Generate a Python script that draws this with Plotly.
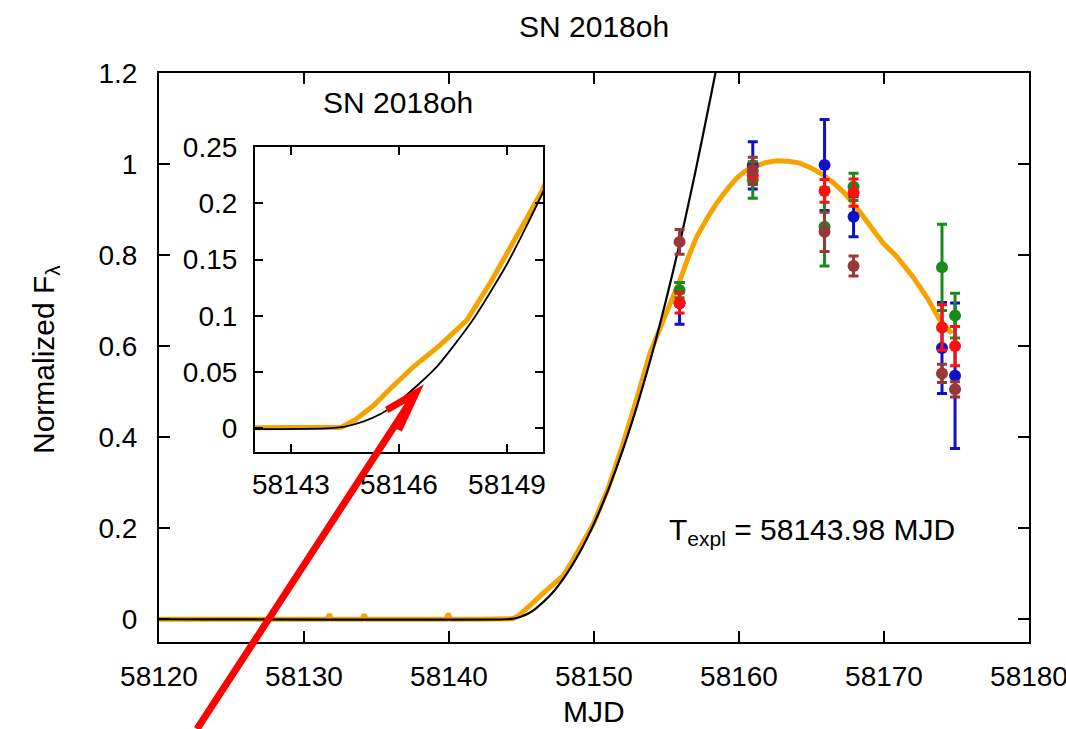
import plotly.graph_objects as go

# ---------------- data ----------------
orange_mjd = [58120.0, 58125.0, 58130.0, 58131.6, 58131.75, 58131.9, 58134.0, 58134.15,
              58134.3, 58139.8, 58139.95, 58140.1, 58142.0, 58144.4, 58144.8, 58145.3,
              58145.75, 58146.4, 58147.14, 58147.88, 58148.53, 58149.18, 58149.96,
              58151.0, 58152.0, 58153.0, 58153.86, 58154.78, 58155.4, 58155.93, 58156.5,
              58157.08, 58157.8, 58158.46, 58159.2, 58159.84, 58160.4, 58160.99, 58161.8,
              58162.6, 58163.4, 58164.2, 58165.0, 58165.81, 58166.5, 58167.19,
              58167.9, 58168.57, 58169.3, 58169.95, 58170.87, 58172.0, 58173.0,
              58173.86, 58174.67]
orange_flux = [0.0, 0.0, 0.0, 0.0, 0.011, 0.0, 0.0, 0.010,
               0.0, 0.0, 0.012, 0.0, 0.0, 0.001, 0.008, 0.0205,
               0.035, 0.0547, 0.074, 0.096, 0.129, 0.165, 0.21,
               0.29, 0.385, 0.49, 0.584, 0.657, 0.703, 0.745, 0.795,
               0.84, 0.881, 0.914, 0.945, 0.969, 0.984, 0.994, 1.003,
               1.007, 1.006, 1.002, 0.991, 0.976, 0.959, 0.939,
               0.913, 0.884, 0.855, 0.826, 0.797, 0.752, 0.705,
               0.657, 0.628]

black_mjd = [58120.0, 58143.98, 58144.5, 58145.0, 58145.5, 58146.0, 58147.0, 58148.0,
             58149.0, 58150.0, 58151.0, 58152.0, 58153.0, 58154.0, 58155.0, 58156.0,
             58157.0, 58158.0, 58158.5]
black_flux = [0.0, 0.0, 0.0016, 0.006, 0.013, 0.024, 0.053, 0.094,
              0.146, 0.21, 0.286, 0.373, 0.472, 0.582, 0.705, 0.838,
              0.984, 1.14, 1.22]

phot_mjd = [58155.9, 58160.95, 58165.9, 58167.9, 58174.0, 58174.9]
blue_flux = [0.694, 0.997, 0.998, 0.884, 0.596, 0.535]
blue_err = [0.046, 0.052, 0.10, 0.044, 0.10, 0.16]
green_flux = [0.723, 0.965, 0.862, 0.950, 0.773, 0.667]
green_err = [0.017, 0.040, 0.086, 0.030, 0.095, 0.049]
red_flux = [0.695, 0.975, 0.941, 0.937, 0.641, 0.600]
red_err = [0.022, 0.020, 0.025, 0.030, 0.050, 0.043]
brown_flux = [0.829, 0.985, 0.851, 0.776, 0.540, 0.505]
brown_err = [0.027, 0.030, 0.043, 0.022, 0.020, 0.017]

x_ticks = [58120, 58130, 58140, 58150, 58160, 58170, 58180]
x_ticktext = ["58120", "58130", "58140", "58150", "58160", "58170", "58180"]
y_ticks = [0, 0.2, 0.4, 0.6, 0.8, 1.0, 1.2]
inset_x_ticks = [58143, 58146, 58149]
inset_x_ticktext = ["58143", "58146", "58149"]
inset_y_ticks = [0, 0.05, 0.1, 0.15, 0.2, 0.25]

ORANGE = "#f5a300"
FONT = "Liberation Sans, Arial, sans-serif"
FS = 28
FT = 30

fig = go.Figure()

# main panel
fig.add_trace(go.Scatter(x=orange_mjd, y=orange_flux, mode="lines",
                         line=dict(color=ORANGE, width=5),
                         xaxis="x", yaxis="y", showlegend=False))
fig.add_trace(go.Scatter(x=black_mjd, y=black_flux, mode="lines",
                         line=dict(color="black", width=2.2, shape="spline", smoothing=0.6),
                         xaxis="x", yaxis="y", showlegend=False))

for flux, err, col in [(blue_flux, blue_err, "#1010c8"),
                       (green_flux, green_err, "#1a8a1a"),
                       (red_flux, red_err, "#ff1010"),
                       (brown_flux, brown_err, "#983838")]:
    fig.add_trace(go.Scatter(x=phot_mjd, y=flux, mode="markers",
                             marker=dict(color=col, size=12),
                             error_y=dict(type="data", array=err, color=col,
                                          thickness=3, width=5),
                             xaxis="x", yaxis="y", showlegend=False))

# inset panel
fig.add_trace(go.Scatter(x=orange_mjd, y=orange_flux, mode="lines",
                         line=dict(color=ORANGE, width=5),
                         xaxis="x2", yaxis="y2", showlegend=False))
fig.add_trace(go.Scatter(x=black_mjd, y=black_flux, mode="lines",
                         line=dict(color="black", width=1.8, shape="spline", smoothing=0.6),
                         xaxis="x2", yaxis="y2", showlegend=False))

axis_common = dict(showline=True, linecolor="black", linewidth=2, mirror="ticks",
                   ticks="inside", tickcolor="black", tickwidth=2, showgrid=False,
                   zeroline=False, ticklabeloverflow="allow", automargin=False,
                   tickfont=dict(family=FONT, size=FS, color="black"))

fig.update_layout(
    width=1066, height=729,
    margin=dict(l=159, r=37, t=73, b=87, autoexpand=False),
    paper_bgcolor="white", plot_bgcolor="white",
    font=dict(family=FONT, size=FS, color="black"),
    xaxis=dict(domain=[0, 1], range=[58120, 58180], tickvals=x_ticks, ticktext=x_ticktext,
               ticklen=11, anchor="y", ticklabelstandoff=8, **axis_common),
    yaxis=dict(domain=[0, 1], range=[-0.05, 1.2], tickvals=y_ticks, ticklen=11,
               anchor="x", ticklabelstandoff=14, **axis_common),
    xaxis2=dict(domain=[0.1103, 0.4414], range=[58142, 58150], tickvals=inset_x_ticks,
                ticktext=inset_x_ticktext, ticklen=8, anchor="y2", ticklabelstandoff=6,
                **axis_common),
    yaxis2=dict(domain=[0.3339, 0.870], range=[-0.021, 0.25], tickvals=inset_y_ticks,
                ticklen=8, anchor="x2", ticklabelstandoff=10, **axis_common),
)

ann = [
    dict(text="SN 2018oh", x=0.5, y=1.0826, xref="paper", yref="paper",
         showarrow=False, xanchor="center", yanchor="middle", font=dict(size=FT)),
    dict(text="SN 2018oh", x=0.2747, y=0.9473, xref="paper", yref="paper",
         showarrow=False, xanchor="center", yanchor="middle", font=dict(size=FT)),
    dict(text="MJD", x=0.5, y=-0.123, xref="paper", yref="paper",
         showarrow=False, xanchor="center", yanchor="middle", font=dict(size=FT)),
    dict(text="Normalized F<sub>λ</sub>", x=-0.131, y=0.4956, xref="paper", yref="paper",
         showarrow=False, xanchor="center", yanchor="middle", textangle=-90,
         font=dict(size=FT)),
    dict(text="T<sub>expl</sub> = 58143.98 MJD", x=0.7506, y=0.195, xref="paper",
         yref="paper", showarrow=False, xanchor="center", yanchor="middle",
         font=dict(size=FT)),
]
fig.update_layout(annotations=ann)

# red arrow (annotation overlay)
fig.add_shape(type="path", xref="paper", yref="paper",
              path="M 0.0437 -0.1529 L 0.2954 0.4376 M 0.2617 0.4077 L 0.2954 0.4376 L 0.2755 0.3726",
              line=dict(color="#ff0000", width=7), layer="above")

fig.write_html("out.html")
